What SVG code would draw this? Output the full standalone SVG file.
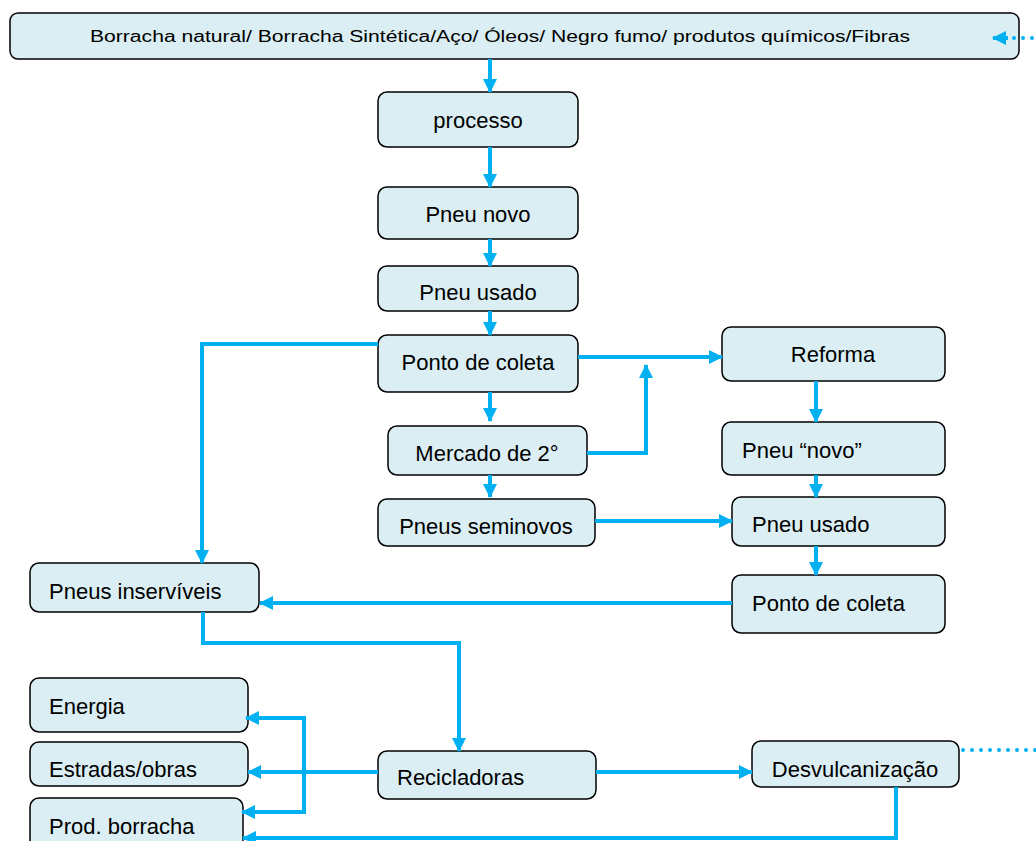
<svg xmlns="http://www.w3.org/2000/svg" width="1036" height="841" viewBox="0 0 1036 841">
<style>
.box{fill:#DAEEF3;stroke:#000;stroke-width:1.5}
.t{font-family:"Liberation Sans",Arial,sans-serif;font-size:22px;fill:#000}
.c{stroke:#00B0F0;stroke-width:4;fill:none}
.d{stroke:#00B0F0;stroke-width:4;fill:none;stroke-dasharray:0 9;stroke-linecap:round}
</style>
<defs>
<marker id="ah" markerUnits="userSpaceOnUse" markerWidth="14" markerHeight="14" refX="13" refY="7" orient="auto">
<path d="M0,0 L14,7 L0,14 Z" fill="#00B0F0"/>
</marker>
</defs>
<rect width="1036" height="841" fill="#fff"/>
<g id="n_top"><rect class="box" x="10" y="13" width="1009" height="46" rx="8"/><text class="t" x="90" y="42" style="font-size:16px" textLength="820" lengthAdjust="spacingAndGlyphs">Borracha natural/ Borracha Sintética/Aço/ Óleos/ Negro fumo/ produtos químicos/Fibras</text></g>
<g id="n_processo"><rect class="box" x="378" y="92" width="200" height="55" rx="9"/><text class="t" x="478" y="128" text-anchor="middle">processo</text></g>
<g id="n_pneunovo"><rect class="box" x="378" y="187" width="200" height="52" rx="9"/><text class="t" x="478" y="222" text-anchor="middle">Pneu novo</text></g>
<g id="n_pneuusado"><rect class="box" x="378" y="266" width="200" height="45" rx="9"/><text class="t" x="478" y="300" text-anchor="middle">Pneu usado</text></g>
<g id="n_ponto"><rect class="box" x="378" y="335" width="200" height="57" rx="9"/><text class="t" x="478" y="370" text-anchor="middle">Ponto de coleta</text></g>
<g id="n_mercado"><rect class="box" x="388" y="426" width="199" height="49" rx="9"/><text class="t" x="487" y="461" text-anchor="middle">Mercado de 2°</text></g>
<g id="n_seminovos"><rect class="box" x="378" y="499" width="217" height="47" rx="9"/><text class="t" x="486" y="534" text-anchor="middle">Pneus seminovos</text></g>
<g id="n_reforma"><rect class="box" x="722" y="327" width="223" height="54" rx="9"/><text class="t" x="833" y="362" text-anchor="middle">Reforma</text></g>
<g id="n_pneunovo2"><rect class="box" x="722" y="422" width="223" height="53" rx="9"/><text class="t" x="742" y="458">Pneu “novo”</text></g>
<g id="n_pneuusado2"><rect class="box" x="732" y="497" width="213" height="49" rx="9"/><text class="t" x="752" y="532">Pneu usado</text></g>
<g id="n_ponto2"><rect class="box" x="732" y="575" width="213" height="58" rx="9"/><text class="t" x="752" y="611">Ponto de coleta</text></g>
<g id="n_inserviveis"><rect class="box" x="30" y="563" width="229" height="49" rx="9"/><text class="t" x="49" y="599">Pneus inservíveis</text></g>
<g id="n_energia"><rect class="box" x="30" y="678" width="218" height="54" rx="9"/><text class="t" x="49" y="714">Energia</text></g>
<g id="n_estradas"><rect class="box" x="30" y="742" width="218" height="44" rx="9"/><text class="t" x="49" y="777">Estradas/obras</text></g>
<g id="n_prod"><rect class="box" x="30" y="798" width="213" height="60" rx="9"/><text class="t" x="49" y="834">Prod. borracha</text></g>
<g id="n_recicladoras"><rect class="box" x="378" y="751" width="218" height="48" rx="9"/><text class="t" x="397" y="785">Recicladoras</text></g>
<g id="n_desvulc"><rect class="box" x="752" y="741" width="207" height="46" rx="9"/><text class="t" x="855" y="777" text-anchor="middle">Desvulcanização</text></g>
<g id="connectors">
<path class="c" d="M490,59 V92" marker-end="url(#ah)"/>
<path class="c" d="M490,147 V187" marker-end="url(#ah)"/>
<path class="c" d="M490,239 V266" marker-end="url(#ah)"/>
<path class="c" d="M490,311 V335" marker-end="url(#ah)"/>
<path class="c" d="M490,392 V421" marker-end="url(#ah)"/>
<path class="c" d="M490,475 V497" marker-end="url(#ah)"/>
<path class="c" d="M378,344 H202 V563" marker-end="url(#ah)"/>
<path class="c" d="M578,357 H722" marker-end="url(#ah)"/>
<path class="c" d="M587,453 H646 V365" marker-end="url(#ah)"/>
<path class="c" d="M595,521 H732" marker-end="url(#ah)"/>
<path class="c" d="M816,381 V422" marker-end="url(#ah)"/>
<path class="c" d="M816,475 V497" marker-end="url(#ah)"/>
<path class="c" d="M816,546 V575" marker-end="url(#ah)"/>
<path class="c" d="M732,603 H260" marker-end="url(#ah)"/>
<path class="c" d="M203,612 V643 H459 V751" marker-end="url(#ah)"/>
<path class="c" d="M596,772 H752" marker-end="url(#ah)"/>
<path class="c" d="M378,772 H248" marker-end="url(#ah)"/>
<path class="c" d="M304,718 V812"/>
<path class="c" d="M306,718 H246" marker-end="url(#ah)"/>
<path class="c" d="M306,812 H242" marker-end="url(#ah)"/>
<path class="c" d="M896,787 V838 H243" marker-end="url(#ah)"/>
<path class="d" d="M1032,38 H1012"/>
<path class="c" d="M1008,38 H993" marker-end="url(#ah)"/>
<path class="d" d="M963,750 H1036"/>
</g>
</svg>
